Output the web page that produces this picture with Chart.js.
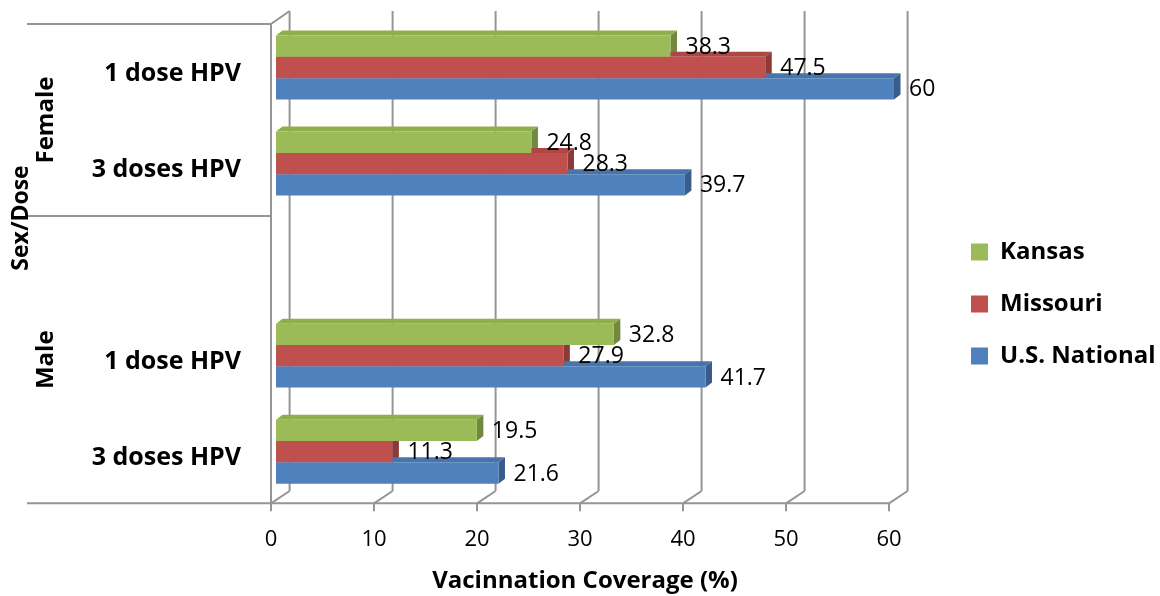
<!DOCTYPE html>
<html><head><meta charset="utf-8">
<script src="https://cdn.jsdelivr.net/npm/chart.js@4.4.1/dist/chart.umd.min.js"></script>
<style>html,body{margin:0;padding:0;background:#fff;}#wrap{width:1160px;height:596px;position:relative;}</style>
</head><body><div id="wrap"><canvas id="c"></canvas></div>
<script>
// ---- data ----
const CATEGORIES = ['1 dose HPV', '3 doses HPV', '', '1 dose HPV', '3 doses HPV'];
const GROUP_OF = ['Female', 'Female', 'Male', 'Male', 'Male'];
const SERIES = ['Kansas', 'Missouri', 'U.S. National'];
const KANSAS = [38.3, 24.8, null, 32.8, 19.5];
const MISSOURI = [47.5, 28.3, null, 27.9, 11.3];
const US_NATIONAL = [60, 39.7, null, 41.7, 21.6];
const X_TICKS = [0, 10, 20, 30, 40, 50, 60];
const X_TITLE = 'Vacinnation Coverage (%)';
const Y_TITLE = 'Sex/Dose';

// ---- style ----
const FAMILY = "'Open Sans', sans-serif";
const FRONT = ['#9BBB59', '#C0504D', '#4F81BD'];
const TOPC = ['#8FAE50', '#AD4744', '#4874AC'];
const SIDEC = ['#71893F', '#8A3A38', '#395D8A'];
const GRID = '#959595';
const LEG_FS = 24, LEG_BOX = 17, LEG_PAD = 28;
const LEG_X = 971, LEG_Y0 = 252;
const AREA_RIGHT = 894;

Chart.defaults.font.family = FAMILY;
Chart.defaults.color = '#000';

const mctx = document.createElement('canvas').getContext('2d');
mctx.font = `bold ${LEG_FS}px ${FAMILY}`;
const legW = LEG_PAD + LEG_BOX + LEG_FS / 2 + Math.max(...SERIES.map(s => mctx.measureText(s).width)) + 10;
const padRight = 1160 - AREA_RIGHT - legW;

function line(ctx, x1, y1, x2, y2) { ctx.beginPath(); ctx.moveTo(x1, y1); ctx.lineTo(x2, y2); ctx.stroke(); }
function poly(ctx, pts, color) { ctx.beginPath(); ctx.moveTo(pts[0][0], pts[0][1]); for (let i = 1; i < pts.length; i++) ctx.lineTo(pts[i][0], pts[i][1]); ctx.closePath(); ctx.fillStyle = color; ctx.fill(); }
function vText(ctx, text, x, y, font) { ctx.save(); ctx.translate(x, y); ctx.rotate(-Math.PI / 2); ctx.font = font; ctx.textAlign = 'center'; ctx.textBaseline = 'middle'; ctx.fillStyle = '#000'; ctx.fillText(text, 0, 0); ctx.restore(); }

// wall geometry relative to scales
const FRONT_DX = -5, BACK_DX = 13.6;
function geom(chart) {
  const xs = chart.scales.x, ys = chart.scales.y, ca = chart.chartArea;
  return {
    F: v => xs.getPixelForValue(v) + FRONT_DX,
    B: v => xs.getPixelForValue(v) + BACK_DX,
    frontTop: ca.top + 4.5, frontBase: ca.bottom + 3.6,
    backTop: ca.top - 8.5, backBot: ca.bottom - 8.7,
    ys
  };
}

const threeD = {
  id: 'threeD',
  afterLayout(chart) {
    const lg = chart.legend;
    if (!lg) return;
    const w = lg.right - lg.left, h = lg.bottom - lg.top;
    lg.left = LEG_X - LEG_PAD; lg.right = lg.left + w;
    lg.top = LEG_Y0 - LEG_FS / 2 - LEG_PAD; lg.bottom = lg.top + h;
  },
  beforeDatasetsDraw(chart) {
    const ctx = chart.ctx, g = geom(chart);
    ctx.save();
    ctx.strokeStyle = GRID; ctx.lineWidth = 2;
    X_TICKS.forEach(v => {
      line(ctx, g.B(v), g.backTop, g.B(v), g.backBot);
      line(ctx, g.F(v), g.frontBase, g.B(v), g.backBot);
      line(ctx, g.F(v), g.frontBase, g.F(v), g.frontBase + 8);
    });
    const x0 = g.F(X_TICKS[0]);
    line(ctx, 27, g.frontBase, g.F(X_TICKS[X_TICKS.length - 1]), g.frontBase);
    line(ctx, x0, g.frontTop, x0, g.frontBase);
    line(ctx, x0, g.frontTop, g.B(X_TICKS[0]), g.backTop);
    line(ctx, 27, g.frontTop, x0, g.frontTop);
    for (let i = 1; i < GROUP_OF.length; i++) {
      if (GROUP_OF[i] !== GROUP_OF[i - 1]) {
        const y = (g.ys.getPixelForValue(i - 1) + g.ys.getPixelForValue(i)) / 2 + 4.5;
        line(ctx, 27, y, x0, y);
      }
    }
    // bar top & side faces
    const dx = 6.5, dy = -5;
    chart.data.datasets.forEach((ds, di) => {
      const meta = chart.getDatasetMeta(di);
      meta.data.forEach((el, j) => {
        if (ds.data[j] == null) return;
        const p = el.getProps(['x', 'y', 'base', 'height'], true);
        const top = p.y - p.height / 2, bot = p.y + p.height / 2;
        poly(ctx, [[p.base, top], [p.x, top], [p.x + dx, top + dy], [p.base + dx, top + dy]], TOPC[di]);
        poly(ctx, [[p.x, top], [p.x + dx, top + dy], [p.x + dx, bot + dy], [p.x, bot]], SIDEC[di]);
      });
    });
    ctx.restore();
  },
  afterDatasetsDraw(chart) {
    const ctx = chart.ctx;
    ctx.save();
    ctx.font = `23px ${FAMILY}`; ctx.fillStyle = '#000'; ctx.textAlign = 'left'; ctx.textBaseline = 'middle';
    chart.data.datasets.forEach((ds, di) => {
      chart.getDatasetMeta(di).data.forEach((el, j) => {
        if (ds.data[j] == null) return;
        const p = el.getProps(['x', 'y'], true);
        ctx.fillText(String(ds.data[j]), p.x + 15, p.y + 1);
      });
    });
    ctx.restore();
  },
  afterDraw(chart) {
    const ctx = chart.ctx, g = geom(chart);
    const font = `bold 24px ${FAMILY}`;
    const bounds = [g.frontTop];
    for (let i = 1; i < GROUP_OF.length; i++) {
      if (GROUP_OF[i] !== GROUP_OF[i - 1]) bounds.push((g.ys.getPixelForValue(i - 1) + g.ys.getPixelForValue(i)) / 2 + 4.5);
    }
    bounds.push(g.frontBase);
    const names = GROUP_OF.filter((n, i) => i === 0 || n !== GROUP_OF[i - 1]);
    names.forEach((n, k) => vText(ctx, n, 46, (bounds[k] + bounds[k + 1]) / 2, font));
    vText(ctx, Y_TITLE, 21, 218, `bold 23px ${FAMILY}`);
  }
};

new Chart(document.getElementById('c'), {
  type: 'bar',
  data: {
    labels: CATEGORIES,
    datasets: [
      { label: SERIES[0], data: KANSAS, backgroundColor: FRONT[0], borderWidth: 0 },
      { label: SERIES[1], data: MISSOURI, backgroundColor: FRONT[1], borderWidth: 0 },
      { label: SERIES[2], data: US_NATIONAL, backgroundColor: FRONT[2], borderWidth: 0 }
    ]
  },
  options: {
    indexAxis: 'y',
    responsive: true,
    maintainAspectRatio: false,
    animation: false,
    categoryPercentage: 0.666,
    barPercentage: 1.0,
    layout: { padding: { top: 19.5, left: 0, right: padRight, bottom: 0 } },
    scales: {
      x: {
        min: 0, max: 60,
        afterBuildTicks: s => { s.ticks = X_TICKS.map(v => ({ value: v })); },
        afterFit: s => { s.height = 96.3; s.paddingLeft = 0; s.paddingRight = 0; },
        grid: { display: false, drawTicks: false },
        border: { display: false },
        ticks: { labelOffset: -5, padding: 27, color: '#000', font: { size: 22 } },
        title: { display: true, text: X_TITLE, color: '#000', font: { size: 24, weight: 'bold' }, padding: { top: 0, bottom: 0 } }
      },
      y: {
        afterFit: s => { s.width = 276; s.paddingTop = 0; s.paddingBottom = 0; },
        grid: { display: false, drawTicks: false },
        border: { display: false },
        ticks: { labelOffset: 6, padding: 35, color: '#000', font: { size: 25, weight: 'bold' } }
      }
    },
    plugins: {
      legend: {
        position: 'right',
        align: 'start',
        labels: { boxWidth: LEG_BOX, boxHeight: LEG_BOX, padding: LEG_PAD, color: '#000', font: { size: LEG_FS, weight: 'bold' } }
      },
      tooltip: { enabled: false }
    }
  },
  plugins: [threeD]
});
</script></body></html>
